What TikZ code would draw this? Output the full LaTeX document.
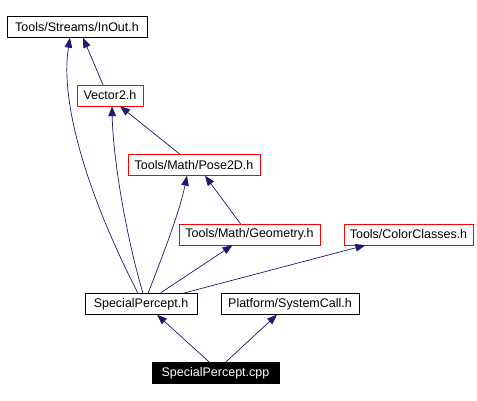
\documentclass[tikz,border=0pt]{standalone}
\usepackage{fontspec}
\setmainfont{Liberation Sans}
\usetikzlibrary{arrows.meta}
\definecolor{edgeblue}{HTML}{191970}

\begin{document}
\begin{tikzpicture}[x=1pt, y=-1pt,
  file/.style={draw=black, rectangle, inner sep=0pt, minimum height=21pt, font=\fontsize{12.5}{14}\selectfont},
  undoc/.style={file, draw=red},
  mainfile/.style={file, draw=black, fill=black, text=white},
  dep/.style={edgeblue, line width=0.7pt, -{Triangle[length=10pt,width=7.5pt]}}]
\useasboundingbox (0,0) rectangle (477,401);
% Headers
\node[file, minimum width=140pt] (inout) at (77,27) {Tools/Streams/InOut.h};
\node[undoc, minimum width=66pt] (vector) at (110,95.5) {Vector2.h};
\node[undoc, minimum width=132pt] (pose) at (194,165) {Tools/Math/Pose2D.h};
\node[undoc, minimum width=141pt] (geometry) at (249.5,234.5) {Tools/Math/Geometry.h};
\node[undoc, minimum width=129pt] (colors) at (408.5,234.5) {Tools/ColorClasses.h};
\node[file, minimum width=112pt] (sph) at (141,304) {SpecialPercept.h};
\node[file, minimum width=138pt] (syscall) at (290,304) {Platform/SystemCall.h};
% Source file
\node[mainfile, minimum width=127pt] (cpp) at (215.5,373) {SpecialPercept.cpp};

% Includes
\draw[dep] ([xshift=-6pt]cpp.north) -- ([xshift=16pt]sph.south);
\draw[dep] ([xshift=10pt]cpp.north) -- ([xshift=-13pt]syscall.south);
\draw[dep] ([xshift=-3pt]sph.north) .. controls (85,190) and (60,100) .. ([xshift=-7pt]inout.south);
\draw[dep] ([xshift=2pt]sph.north) .. controls (127,240) and (113,160) .. ([xshift=2pt]vector.south);
\draw[dep] ([xshift=7pt]sph.north) .. controls (165,250) and (180,210) .. ([xshift=-7pt]pose.south);
\draw[dep] ([xshift=19pt]sph.north) -- ([xshift=-17pt]geometry.south);
\draw[dep] ([xshift=42pt]sph.north) -- ([xshift=-43pt]colors.south);
\draw[dep] ([xshift=-9pt]geometry.north) -- ([xshift=11pt]pose.south);
\draw[dep] ([xshift=-14pt]pose.north) -- ([xshift=10pt]vector.south);
\draw[dep] ([xshift=-7pt]vector.north) -- ([xshift=6pt]inout.south);
\end{tikzpicture}
\end{document}
